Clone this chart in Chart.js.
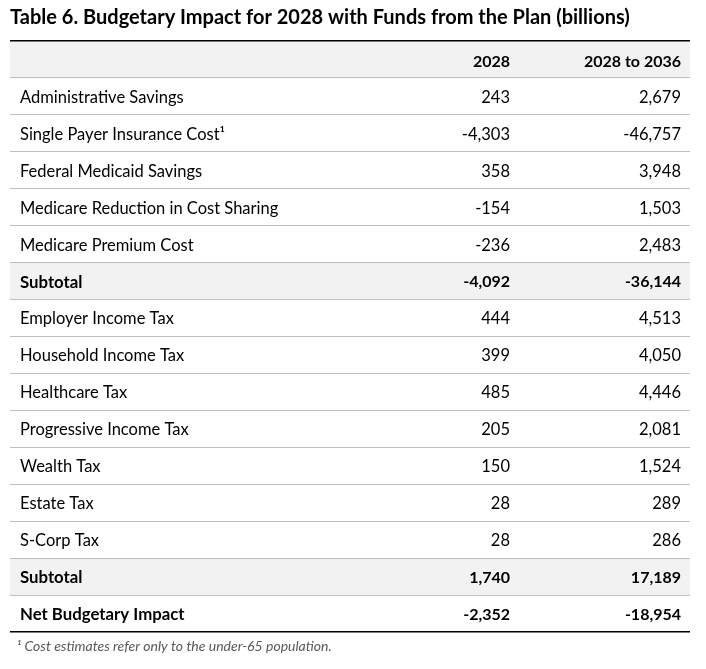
<!DOCTYPE html>
<html><head><meta charset="utf-8">
<script src="https://cdn.jsdelivr.net/npm/chart.js@4"></script>
<style>html,body{margin:0;padding:0;background:#fff}#wrap{width:706px;height:669px}</style>
</head><body><div id="wrap"><canvas id="c"></canvas></div>
<script>
const titleText = "Table 6. Budgetary Impact for 2028 with Funds from the Plan (billions)";
const footnote = "  ¹ Cost estimates refer only to the under-65 population.";
const columnHeaders = ["2028", "2028 to 2036"];
const rowLabels = ["Administrative Savings","Single Payer Insurance Cost¹","Federal Medicaid Savings","Medicare Reduction in Cost Sharing","Medicare Premium Cost","Subtotal","Employer Income Tax","Household Income Tax","Healthcare Tax","Progressive Income Tax","Wealth Tax","Estate Tax","S-Corp Tax","Subtotal","Net Budgetary Impact"];
const values2028 = [243,-4303,358,-154,-236,-4092,444,399,485,205,150,28,28,1740,-2352];
const values2028to2036 = [2679,-46757,3948,1503,2483,-36144,4513,4050,4446,2081,1524,289,286,17189,-18954];
const boldRows = ["Subtotal","Net Budgetary Impact"];
const shadedRows = [5, 13];

const cats = ["header"].concat(rowLabels.map((l,i)=>"r"+i));
const shade = cats.map((c,i)=> (i===0 || shadedRows.includes(i-1)) ? [0,1] : null);
const FONT = "Lato";

const textPlugin = {
  id: 'cells',
  afterDraw(chart){
    const ctx = chart.ctx, y = chart.scales.y, a = chart.chartArea;
    ctx.save();
    ctx.fillStyle = '#000';
    ctx.textBaseline = 'middle';
    const colX = [510, 681];
    ctx.font = `bold 16px ${FONT}`;
    ctx.textAlign = 'right';
    const hy = y.getPixelForValue(0) + 2;
    columnHeaders.forEach((h,j)=>ctx.fillText(h, colX[j], hy));
    rowLabels.forEach((lab,i)=>{
      const py = y.getPixelForValue(i+1) + 1;
      const bold = boldRows.includes(lab);
      ctx.font = bold ? `bold 16.8px ${FONT}` : `16.5px ${FONT}`;
      ctx.textAlign = 'left';
      ctx.fillText(lab, a.left + 10, py);
      ctx.textAlign = 'right';
      if (bold) ctx.font = `bold 16px ${FONT}`;
      ctx.fillText(values2028[i].toLocaleString('en-US'), colX[0], py);
      ctx.fillText(values2028to2036[i].toLocaleString('en-US'), colX[1], py);
    });
    ctx.restore();
  }
};

new Chart(document.getElementById('c'), {
  type: 'bar',
  data: { labels: cats, datasets: [{ data: shade, backgroundColor: '#f2f2f2', borderWidth: 0, barPercentage: 1, categoryPercentage: 1 }] },
  options: {
    indexAxis: 'y', responsive: true, maintainAspectRatio: false, animation: false,
    layout: { padding: { left: 10, right: 16, top: 6, bottom: 14 } },
    plugins: {
      legend: { display: false }, tooltip: { enabled: false },
      title: { display: true, text: titleText, align: 'start', color: '#000', font: { family: FONT, size: 20, weight: 'bold', lineHeight: 1.2 }, padding: { top: 0, bottom: 11 } },
      subtitle: { display: true, position: 'bottom', text: footnote, align: 'start', color: '#595959', font: { family: FONT, size: 14, style: 'italic', lineHeight: 1.2 }, padding: { top: 6, bottom: 0 } }
    },
    scales: {
      x: { display: false, min: 0, max: 1 },
      y: {
        ticks: { display: false },
        border: { display: false },
        afterFit: s => { s.width = 0; },
        grid: {
          z: 1,
          offset: true, drawTicks: false,
          color: c => (c.index === 0 || c.index === undefined) ? '#000' : '#bfbfbf',
          lineWidth: c => (c.index === 0 || c.index === undefined) ? 1.5 : 1
        }
      }
    }
  },
  plugins: [textPlugin]
});
</script></body></html>
